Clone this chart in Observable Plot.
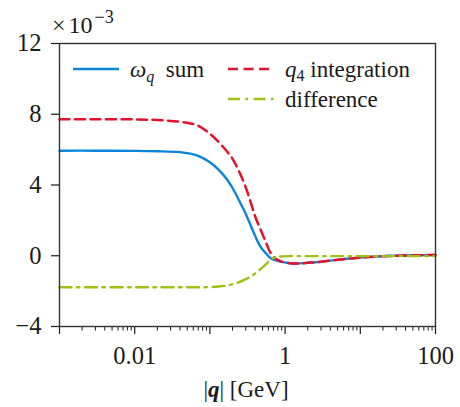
<!DOCTYPE html>
<html>
<head>
<meta charset="utf-8">
<script src="https://cdn.jsdelivr.net/npm/d3@7"></script>
<script src="https://cdn.jsdelivr.net/npm/@observablehq/plot@0.6"></script>
<style>
  html, body { margin: 0; padding: 0; background: #fff; }
  #chart { width: 460px; height: 407px; }
</style>
</head>
<body>
<div id="chart"></div>
<script>
// Momentum magnitude |q| in GeV (log axis)
const qValues = [0.001, 0.003, 0.01, 0.02, 0.04, 0.055, 0.07, 0.1, 0.13, 0.17, 0.2, 0.25, 0.3, 0.35, 0.4, 0.47, 0.55, 0.65, 0.78, 0.9, 1.1, 1.4, 2, 3, 5, 8, 15, 30, 60, 100];

// Result from the sum over omega_q (units of 1e-3)
const omegaSum = [5.94, 5.94, 5.93, 5.91, 5.86, 5.77, 5.65, 5.28, 4.87, 4.30, 3.83, 3.04, 2.36, 1.70, 1.12, 0.52, 0.16, -0.15, -0.27, -0.35, -0.41, -0.44, -0.40, -0.34, -0.23, -0.14, -0.05, 0.00, 0.03, 0.04];

// Result from the q4 integration (units of 1e-3)
const q4Integration = [7.72, 7.72, 7.71, 7.67, 7.58, 7.48, 7.35, 6.90, 6.44, 5.88, 5.48, 4.68, 3.86, 3.01, 2.22, 1.50, 0.81, 0.12, -0.22, -0.33, -0.41, -0.44, -0.40, -0.34, -0.23, -0.14, -0.05, 0.00, 0.03, 0.04];

// Difference between the two (units of 1e-3)
const difference = [-1.78, -1.78, -1.78, -1.78, -1.78, -1.78, -1.78, -1.77, -1.74, -1.68, -1.61, -1.48, -1.32, -1.17, -1.00, -0.76, -0.50, -0.19, -0.07, -0.04, -0.02, -0.02, -0.02, -0.02, -0.02, -0.02, -0.02, -0.02, -0.02, -0.02];

// Axis ticks
const yTicks = [-4, 0, 4, 8, 12];
const xMajorTicks = [0.001, 0.01, 0.1, 1, 10, 100];
const xMinorTicks = [0.001, 0.01, 0.1, 1, 10].flatMap(d => [2, 3, 4, 5, 6, 7, 8, 9].map(m => +(d * m).toPrecision(3)));
const xLabelTicks = [0.01, 1, 100];

// Series styling
const seriesNames = ["omega", "q4", "diff"];
const seriesColors = ["#0b84d9", "#e6112c", "#9dc217"];
const seriesDashes = [null, "10,5.5", "12,5.5,2.5,5.5"];
const seriesWidths = [2.4, 2.5, 2.4];

const seriesValues = [omegaSum, q4Integration, difference];
const rows = seriesValues.map((vals, s) => qValues.map((q, i) => ({q, value: vals[i], series: seriesNames[s]})));

const W = 460, H = 407;
const mL = 59, mR = 25, mT = 43, mB = 81;
const serif = "Liberation Serif, serif";
const ink = "#1a1a1a";
const fs = 23;       // legend and axis title
const tickFs = 24.5; // tick labels

const minus = d => d < 0 ? "\u2212" + Math.abs(d) : String(d);

const chart = Plot.plot({
  width: W,
  height: H,
  marginLeft: mL,
  marginRight: mR,
  marginTop: mT,
  marginBottom: mB,
  style: {fontFamily: serif, fontSize: fs + "px", color: ink, background: "#fff", overflow: "visible"},
  x: {type: "log", domain: [0.001, 100]},
  y: {domain: [-4, 12]},
  marks: [
    Plot.axisY({ticks: yTicks, tickSize: 8, tickPadding: 10, tickFormat: minus, label: null, fontSize: tickFs, fontFamily: serif, strokeWidth: 1.2}),
    Plot.axisX({ticks: xMajorTicks, tickSize: 8, tickFormat: () => "", label: null, strokeWidth: 1.2}),
    Plot.axisX({ticks: xMinorTicks, tickSize: 4.5, tickFormat: () => "", label: null, strokeWidth: 1}),
    Plot.axisX({ticks: xLabelTicks, tickSize: 0, tickPadding: 20, tickFormat: d => String(d), label: null, fontSize: tickFs, fontFamily: serif}),
    ...rows.map((data, s) => Plot.line(data, {
      x: "q", y: "value",
      stroke: seriesColors[s],
      strokeWidth: seriesWidths[s],
      strokeDasharray: seriesDashes[s],
      curve: "catmull-rom"
    })),
    Plot.frame({stroke: "#333", strokeWidth: 1.4})
  ]
});

document.getElementById("chart").appendChild(chart);

const svg = d3.select(chart);

// Scale factor above the y axis
const mult = svg.append("text")
  .attr("x", mL - 7).attr("y", mT - 10)
  .attr("text-anchor", "start")
  .style("font-family", serif).style("font-size", "24px").attr("fill", ink);
mult.append("tspan").style("font-size", "24px").text("\u00d7");
mult.append("tspan").style("font-size", "24px").attr("dx", 3).text("10");
mult.append("tspan").style("font-size", "18px").attr("dx", 2).attr("dy", -10).text("\u22123");

// x-axis title
const xTitle = svg.append("text")
  .attr("x", mL + (W - mL - mR) / 2 - 1).attr("y", H - 10)
  .attr("text-anchor", "middle")
  .style("font-family", serif).style("font-size", fs + "px").attr("fill", ink);
xTitle.append("tspan").text("|");
xTitle.append("tspan").style("font-style", "italic").style("font-weight", "bold").text("q");
xTitle.append("tspan").text("| [GeV]");

// Legend
const legend = svg.append("g")
  .style("font-family", serif).style("font-size", fs + "px").attr("fill", ink)
  .attr("text-anchor", "start");
const entries = [
  {s: 0, x: mL + 14, y: mT + 26},
  {s: 1, x: mL + 169, y: mT + 26},
  {s: 2, x: mL + 169, y: mT + 56}
];
entries.forEach(({s, x, y}) => {
  legend.append("line")
    .attr("x1", x).attr("x2", x + 46).attr("y1", y).attr("y2", y)
    .attr("stroke", seriesColors[s])
    .attr("stroke-width", seriesWidths[s])
    .attr("stroke-dasharray", seriesDashes[s]);
  const t = legend.append("text").attr("x", x + 57).attr("y", y + 7.5);
  if (s === 0) {
    t.append("tspan").style("font-style", "italic").text("\u03c9");
    t.append("tspan").style("font-style", "italic").style("font-size", "16px").attr("dy", 5).text("q");
    t.append("tspan").attr("dy", -5).text("\u2002sum");
  } else if (s === 1) {
    t.append("tspan").style("font-style", "italic").text("q");
    t.append("tspan").style("font-size", "16px").attr("dy", 4).text("4");
    t.append("tspan").attr("dy", -4).text(" integration");
  } else {
    t.text("difference");
  }
});
</script>
</body>
</html>
